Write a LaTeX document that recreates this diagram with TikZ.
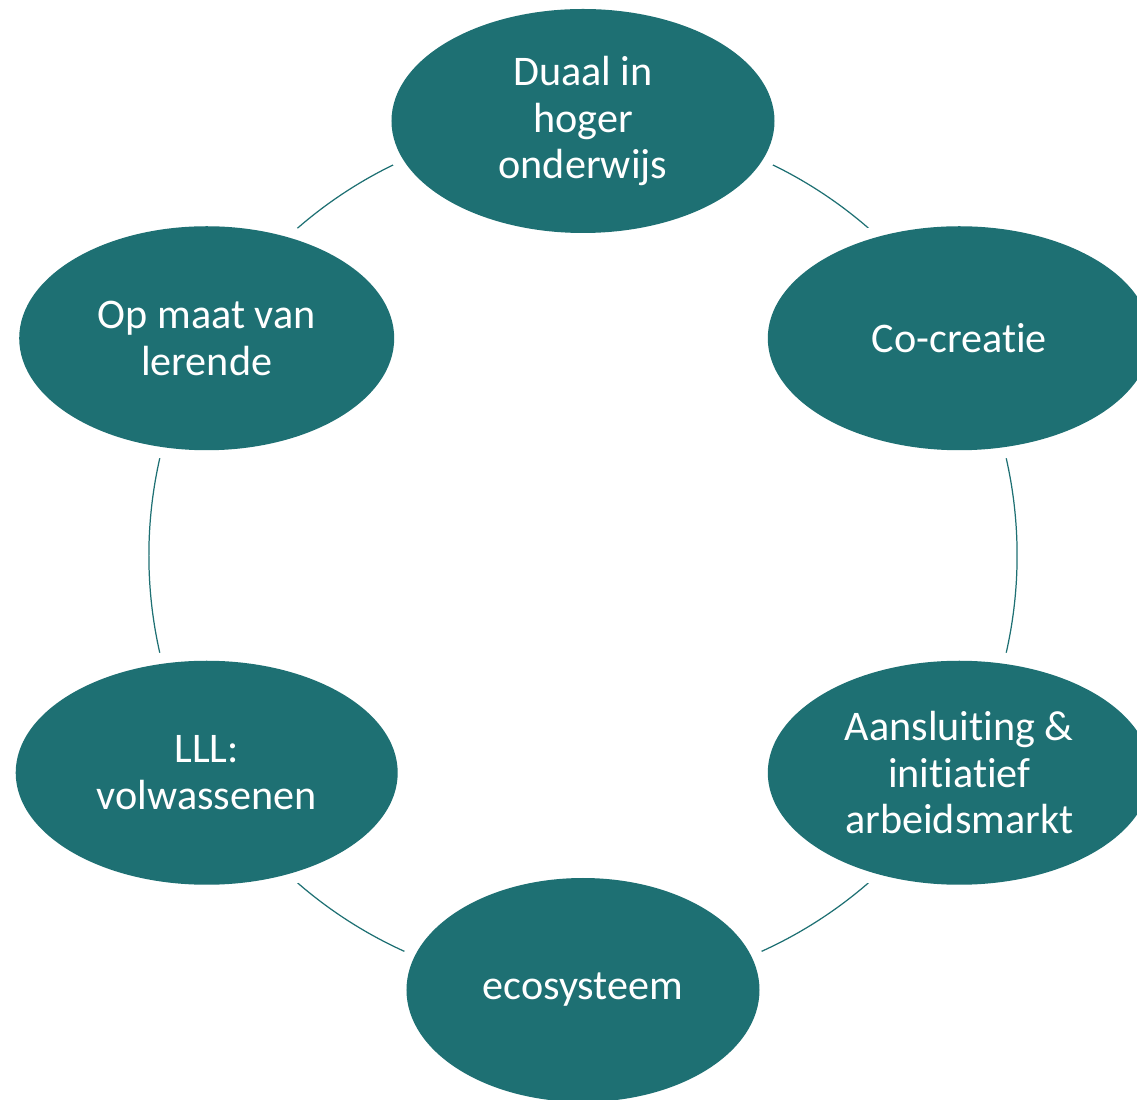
\documentclass[tikz,border=0pt]{standalone}
\usepackage{fontspec}
\setmainfont{Carlito}[Ligatures={NoCommon,NoRequired}]
\usetikzlibrary{shapes.geometric,backgrounds}
\definecolor{petrol}{HTML}{1E7073}
\newcommand\nolig{\kern0pt\relax}
\tikzset{
  cyc/.style={ellipse, fill=petrol, text=white, align=center, inner sep=0pt,
    minimum width=7.66cm, minimum height=4.48cm,
    preaction={draw=white, line width=0.45cm},
    font=\fontsize{24}{26.6}\selectfont},
  ring/.style={draw=petrol, line width=0.7pt, bend left=30, looseness=0.91}
}
\begin{document}
\begin{tikzpicture}
  \useasboundingbox (-11.66,-10.89) rectangle (11.08,11.11);
  \node[cyc] (duaal) at (90:8.69) {Duaal in\\hoger\\onderwijs};
  \node[cyc] (cocreatie) at (30:8.69) {Co-creat\nolig ie};
  \node[cyc] (aansluiting) at (-30:8.69) {Aansluit\nolig ing \&\\init\nolig iat\nolig ief\\arbeidsmarkt};
  \node[cyc, minimum width=7.06cm] (eco) at (-90:8.69) {ecosysteem};
  \node[cyc, minimum width=7.64cm] (lll) at (-150:8.69) {LLL:\\volwassenen};
  \node[cyc, minimum width=7.5cm] (opmaat) at (150:8.69) {Op maat van\\lerende};
  % ring between the ellipses
  \begin{scope}[on background layer]
    \draw[ring] (duaal.center) to (cocreatie.center);
    \draw[ring] (cocreatie.center) to (aansluiting.center);
    \draw[ring] (aansluiting.center) to (eco.center);
    \draw[ring] (eco.center) to (lll.center);
    \draw[ring] (lll.center) to (opmaat.center);
    \draw[ring] (opmaat.center) to (duaal.center);
  \end{scope}
\end{tikzpicture}
\end{document}
